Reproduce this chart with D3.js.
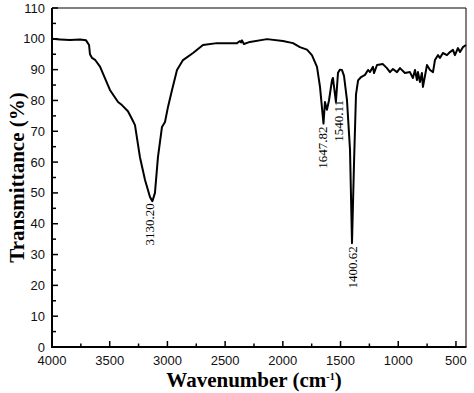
<!DOCTYPE html>
<html><head><meta charset="utf-8">
<script src="https://cdn.jsdelivr.net/npm/d3@7"></script>
<style>body{margin:0;background:#fff}</style>
</head><body>
<svg id="chart" width="474" height="393"></svg>
<script>
const wavenumber = [4000,3931,3844,3757,3705,3679,3671,3653,3627,3584,3498,3428,3394,3342,3307,3281,3238,3194,3151,3130.2,3108,3082,3047,3021,2995,2960,2917,2865,2778,2692,2571,2397,2371,2362,2354,2337,2285,2137,1999,1912,1852,1791,1748,1704,1678,1647.82,1635,1618,1600,1574,1566,1540.11,1522,1505,1488,1470,1444,1418,1400.62,1383,1366,1348,1322,1288,1262,1245,1219,1210,1184,1133,1098,1072,1046,1011,985,942,899,873,855,838,829,812,795,786,751,725,699,682,656,639,613,578,552,526,509,483,465,440,413];
const transmittance = [100,99.8,99.6,99.8,99.5,98,95,93.8,93.2,91,83.4,79.5,78.5,76.5,74,72,61.6,54.2,48.7,47.3,50,61.6,71.4,73,77.9,83.4,89.9,93.1,95.4,98,98.6,98.6,99.3,98.8,99.5,98.3,99,99.9,99.3,98.6,97.3,96.5,94.7,90.9,84.4,72.5,79.5,77,80,86.6,87.3,79.5,89,90,89.9,88,80,64,33.7,60,82,86.5,87.6,88.3,89.9,89.2,90.9,88.9,91.5,91.8,90.5,89.2,90.2,89.2,90.5,88.9,89.2,87.3,89.9,86.6,89.2,86,88.9,84.4,91.5,89.9,89.2,93.1,94.7,93.8,95.4,94.7,95.7,96.4,94.7,97,95.7,97.3,98];
const peakLabels = ["3130.20","1647.82","1540.11","1400.62"];
const peakPositions = [3130.2,1647.82,1540.11,1400.62];
const peakValues = [47.3,72.5,79.5,33.7];
const xTickValues = [4000,3500,3000,2500,2000,1500,1000,500];
const yTickValues = [0,10,20,30,40,50,60,70,80,90,100,110];

const svg = d3.select("#chart");
const L = 52, R = 466, T = 8, B = 347;
const x = d3.scaleLinear().domain([4000, 413]).range([L, R]);
const y = d3.scaleLinear().domain([0, 110]).range([B, T]);

// frame (top/right thin)
svg.append("line").attr("x1",L).attr("x2",R).attr("y1",T).attr("y2",T).attr("stroke","#000").attr("stroke-width",1);
svg.append("line").attr("x1",R).attr("x2",R).attr("y1",T).attr("y2",B).attr("stroke","#000").attr("stroke-width",1);

// x axis
const xMinor = d3.range(3750, 413, -500);
svg.append("g").selectAll("line").data(xMinor).join("line")
  .attr("x1",d=>x(d)).attr("x2",d=>x(d)).attr("y1",B).attr("y2",B-3.5).attr("stroke","#000").attr("stroke-width",1.5);
svg.append("g").selectAll("line").data(xTickValues).join("line")
  .attr("x1",d=>x(d)).attr("x2",d=>x(d)).attr("y1",B).attr("y2",B-6).attr("stroke","#000").attr("stroke-width",1.5);
svg.append("g").selectAll("text").data(xTickValues).join("text")
  .attr("x",d=>x(d)).attr("y",B+18).attr("text-anchor","middle")
  .attr("font-family","Liberation Sans, Arial, sans-serif").attr("font-size",13).attr("fill","#111")
  .text(d=>d);

// y axis
const yMinor = d3.range(5, 110, 10);
svg.append("g").selectAll("line").data(yMinor).join("line")
  .attr("x1",L).attr("x2",L+4).attr("y1",d=>y(d)).attr("y2",d=>y(d)).attr("stroke","#000").attr("stroke-width",1.5);
svg.append("g").selectAll("line").data(yTickValues).join("line")
  .attr("x1",L).attr("x2",L+6).attr("y1",d=>y(d)).attr("y2",d=>y(d)).attr("stroke","#000").attr("stroke-width",1.5);
svg.append("g").selectAll("text").data(yTickValues).join("text")
  .attr("x",L-7).attr("y",d=>y(d)+4.5).attr("text-anchor","end")
  .attr("font-family","Liberation Sans, Arial, sans-serif").attr("font-size",13).attr("fill","#111")
  .text(d=>d);

svg.append("line").attr("x1",L).attr("x2",L).attr("y1",T).attr("y2",B+1).attr("stroke","#000").attr("stroke-width",2);
svg.append("line").attr("x1",L-1).attr("x2",R+0.5).attr("y1",B).attr("y2",B).attr("stroke","#000").attr("stroke-width",2);

// curve
const pts = wavenumber.map((w,i)=>[w, transmittance[i]]);
svg.append("path").datum(pts)
  .attr("d", d3.line().x(d=>x(d[0])).y(d=>y(d[1])))
  .attr("fill","none").attr("stroke","#000").attr("stroke-width",2).attr("stroke-linejoin","round");

// peak labels
const labOff = [[-2.4,2],[-0.5,3],[3,-2],[0,3]];
peakLabels.forEach((t,i)=>{
  const px = x(peakPositions[i]) + labOff[i][0] + 4.5;
  const py = y(peakValues[i]) + labOff[i][1];
  svg.append("text").attr("transform",`translate(${px},${py}) rotate(-90)`)
    .attr("text-anchor","end")
    .attr("font-family","Liberation Serif, Times New Roman, serif").attr("font-size",13).attr("fill","#000")
    .text(t);
});

// axis titles
svg.append("text").attr("transform",`translate(24,${(T+B)/2}) rotate(-90)`)
  .attr("text-anchor","middle").attr("font-family","Liberation Serif, Times New Roman, serif")
  .attr("font-weight","bold").attr("font-size",21).text("Transmittance (%)");
const xt = svg.append("text").attr("x",254).attr("y",387).attr("text-anchor","middle")
  .attr("font-family","Liberation Serif, Times New Roman, serif").attr("font-weight","bold").attr("font-size",21);
xt.append("tspan").text("Wavenumber (cm");
xt.append("tspan").attr("dy",-7).attr("font-size",10).text("-1");
xt.append("tspan").attr("dy",7).text(")");
</script>
</body></html>
